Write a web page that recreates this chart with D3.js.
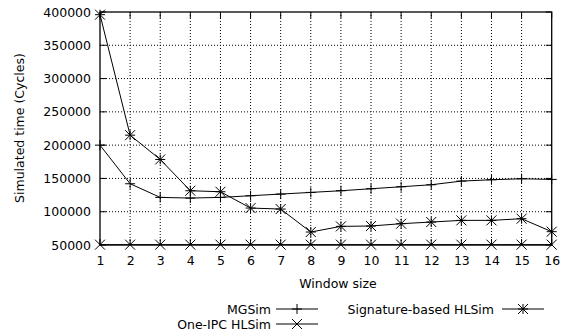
<!DOCTYPE html>
<html>
<head>
<meta charset="utf-8">
<script src="https://cdn.jsdelivr.net/npm/d3@7"></script>
<style>
  body { margin: 0; background: #fff; }
  text { font-family: "DejaVu Sans", sans-serif; fill: #000; }
</style>
</head>
<body>
<script>
var windowSizes = [1, 2, 3, 4, 5, 6, 7, 8, 9, 10, 11, 12, 13, 14, 15, 16];
var mgsim = [200000, 142000, 121500, 120500, 121500, 124000, 126500, 129000, 131500, 134500, 137500, 140500, 146000, 148000, 149500, 148500];
var oneIpc = [50500, 50500, 50500, 50500, 50500, 50500, 50500, 50500, 50500, 50500, 50500, 50500, 50500, 50500, 50500, 50500];
var signature = [396000, 215000, 178500, 131500, 130000, 105500, 104000, 69500, 78000, 78500, 82000, 84500, 87000, 87000, 89500, 70000];
var yTicks = [50000, 100000, 150000, 200000, 250000, 300000, 350000, 400000];

var w = 566;
var h = 336;
var pLeft = 100, pRight = 551.7, pTop = 12, pBottom = 245;

var svg = d3.select("body")
  .append("svg")
  .attr("width", w)
  .attr("height", h);

var x = d3.scaleLinear().domain([1, 16]).range([pLeft, pRight]);
var y = d3.scaleLinear().domain([50000, 400000]).range([pBottom, pTop]);

// grid
svg.selectAll(".gx")
  .data(windowSizes.slice(1, -1))
  .enter()
  .append("line")
  .attr("x1", function(d) { return x(d); })
  .attr("x2", function(d) { return x(d); })
  .attr("y1", pTop)
  .attr("y2", pBottom)
  .attr("stroke", "#000")
  .attr("stroke-width", 1)
  .attr("stroke-dasharray", "1,2");

svg.selectAll(".gy")
  .data(yTicks.slice(1, -1))
  .enter()
  .append("line")
  .attr("x1", pLeft)
  .attr("x2", pRight)
  .attr("y1", function(d) { return y(d); })
  .attr("y2", function(d) { return y(d); })
  .attr("stroke", "#000")
  .attr("stroke-width", 1)
  .attr("stroke-dasharray", "1,2");

// axes with labels
svg.append("g")
  .attr("transform", "translate(0," + pBottom + ")")
  .call(d3.axisBottom(x).tickValues(windowSizes).tickFormat(d3.format("d")).tickSize(0).tickPadding(11))
  .call(function(g) { g.select(".domain").remove(); })
  .selectAll("text")
  .attr("font-size", "12.5px")
  .attr("font-family", "DejaVu Sans");

svg.append("g")
  .attr("transform", "translate(" + pLeft + ",0)")
  .call(d3.axisLeft(y).tickValues(yTicks).tickFormat(d3.format("d")).tickSize(0).tickPadding(9))
  .call(function(g) { g.select(".domain").remove(); })
  .selectAll("text")
  .attr("font-size", "12.5px")
  .attr("font-family", "DejaVu Sans");

// inward ticks, both sides
var tl = 6;
windowSizes.forEach(function(d) {
  svg.append("line").attr("x1", x(d)).attr("x2", x(d)).attr("y1", pBottom).attr("y2", pBottom - tl).attr("stroke", "#000");
  svg.append("line").attr("x1", x(d)).attr("x2", x(d)).attr("y1", pTop).attr("y2", pTop + tl).attr("stroke", "#000");
});
yTicks.forEach(function(d) {
  svg.append("line").attr("x1", pLeft).attr("x2", pLeft + tl).attr("y1", y(d)).attr("y2", y(d)).attr("stroke", "#000");
  svg.append("line").attr("x1", pRight).attr("x2", pRight - tl).attr("y1", y(d)).attr("y2", y(d)).attr("stroke", "#000");
});

// frame
svg.append("rect")
  .attr("x", pLeft)
  .attr("y", pTop)
  .attr("width", pRight - pLeft)
  .attr("height", pBottom - pTop)
  .attr("fill", "none")
  .attr("stroke", "#000")
  .attr("stroke-width", 1.3);

function plus(g, cx, cy, r) {
  g.append("path").attr("d", "M" + (cx - r) + "," + cy + "H" + (cx + r) + "M" + cx + "," + (cy - r) + "V" + (cy + r))
    .attr("stroke", "#000").attr("fill", "none");
}
function cross(g, cx, cy, r) {
  g.append("path").attr("d", "M" + (cx - r) + "," + (cy - r) + "L" + (cx + r) + "," + (cy + r) + "M" + (cx - r) + "," + (cy + r) + "L" + (cx + r) + "," + (cy - r))
    .attr("stroke", "#000").attr("fill", "none");
}
function star(g, cx, cy, r) {
  plus(g, cx, cy, r);
  cross(g, cx, cy, r);
}

var series = [
  { name: "MGSim", values: mgsim, mark: plus },
  { name: "One-IPC HLSim", values: oneIpc, mark: cross },
  { name: "Signature-based HLSim", values: signature, mark: star }
];

var line = d3.line()
  .x(function(d, i) { return x(windowSizes[i]); })
  .y(function(d) { return y(d); });

series.forEach(function(s) {
  svg.append("path")
    .datum(s.values)
    .attr("d", line)
    .attr("fill", "none")
    .attr("stroke", "#000")
    .attr("stroke-width", 1);
  var g = svg.append("g");
  s.values.forEach(function(v, i) {
    s.mark(g, x(windowSizes[i]), y(v), 5);
  });
});

// axis titles
svg.append("text")
  .text("Window size")
  .attr("x", 338)
  .attr("y", 288)
  .attr("text-anchor", "middle")
  .attr("font-size", "12.5px");

svg.append("text")
  .text("Simulated time (Cycles)")
  .attr("transform", "translate(24,128) rotate(-90)")
  .attr("text-anchor", "middle")
  .attr("font-size", "12.5px");

// legend
var legend = [
  { s: series[0], tx: 271, lx: 276, ly: 309 },
  { s: series[1], tx: 271, lx: 276, ly: 324 },
  { s: series[2], tx: 494, lx: 502, ly: 309 }
];
legend.forEach(function(l) {
  svg.append("text")
    .text(l.s.name)
    .attr("x", l.tx)
    .attr("y", l.ly + 4.5)
    .attr("text-anchor", "end")
    .attr("font-size", "12.5px");
  svg.append("line")
    .attr("x1", l.lx).attr("x2", l.lx + 42)
    .attr("y1", l.ly).attr("y2", l.ly)
    .attr("stroke", "#000");
  var g = svg.append("g");
  l.s.mark(g, l.lx + 21, l.ly, 5);
});
</script>
</body>
</html>
